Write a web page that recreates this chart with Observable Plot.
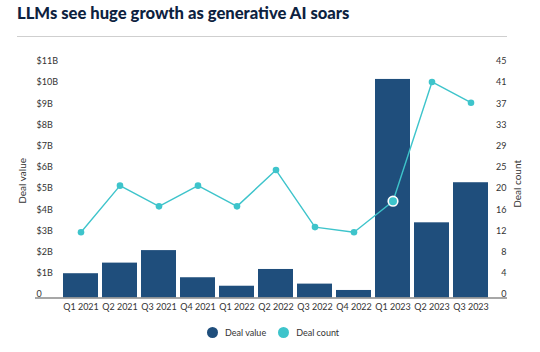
<!DOCTYPE html>
<html>
<head>
<meta charset="utf-8">
<script src="https://cdn.jsdelivr.net/npm/d3@7"></script>
<script src="https://cdn.jsdelivr.net/npm/@observablehq/plot@0.6"></script>
<style>
  html, body { margin: 0; padding: 0; background: #fff; }
  #wrap { position: relative; width: 540px; height: 352px; overflow: hidden; font-family: Lato, "Open Sans", sans-serif; }
  #title { position: absolute; left: 17px; top: 3px; font-size: 16.6px; font-weight: 900; color: #0d2240; white-space: nowrap; }
  #divider { position: absolute; left: 17px; top: 36px; width: 490px; height: 1px; background: #cfcfcf; }
  #chart { position: absolute; left: 0; top: 0; }
  #legend { position: absolute; top: 327px; left: 207px; display: flex; align-items: center; font-size: 9px; color: #333; }
  .sw { width: 11px; height: 11px; border-radius: 50%; display: inline-block; margin-right: 7px; }
  .item { display: flex; align-items: center; margin-right: 12px; }
</style>
</head>
<body>
<div id="wrap">
  <div id="title">LLMs see huge growth as generative AI soars</div>
  <div id="divider"></div>
  <div id="chart"></div>
  <div id="legend"></div>
</div>
<script>
const quarters = ["Q1 2021","Q2 2021","Q3 2021","Q4 2021","Q1 2022","Q2 2022","Q3 2022","Q4 2022","Q1 2023","Q2 2023","Q3 2023"];
const dealValue = [0.98, 1.48, 2.07, 0.79, 0.39, 1.18, 0.49, 0.19, 10.14, 3.38, 5.27]; // $B
const dealCount = [12, 21, 17, 21, 17, 24, 13, 12, 18, 41, 37];
const valueTicks = [0,1,2,3,4,5,6,7,8,9,10,11];
const valueTickLabels = ["0","$1B","$2B","$3B","$4B","$5B","$6B","$7B","$8B","$9B","$10B","$11B"];
const countTickLabels = ["0","4","8","12","16","20","25","29","33","37","41","45"];
const countMax = 45;
const valueMax = 11;
const highlighted = "Q1 2023";
const series = ["Deal value", "Deal count"];
const colors = ["#1f4e7c", "#3ec4cb"];

const data = quarters.map((q, i) => ({quarter: q, value: dealValue[i], count: dealCount[i]}));
const countToY = c => c * valueMax / countMax;

const plot = Plot.plot({
  width: 540,
  height: 352,
  marginTop: 60.7,
  marginBottom: 58,
  marginLeft: 35,
  marginRight: 33,
  style: {fontFamily: "Lato, 'Open Sans', sans-serif", fontSize: "9px", color: "#333", background: "transparent"},
  x: {domain: quarters, range: [57, 495], padding: 0.1},
  y: {domain: [0, valueMax]},
  marks: [
    Plot.barY(data, {x: "quarter", y: "value", fill: colors[0], insetBottom: -3.5}),
    Plot.ruleY([0], {stroke: "#8a8a8a", strokeWidth: 1.5, dy: 3.5}),
    Plot.line(data, {x: "quarter", y: d => countToY(d.count), stroke: colors[1], strokeWidth: 1.4}),
    Plot.dot(data.filter(d => d.quarter !== highlighted), {x: "quarter", y: d => countToY(d.count), r: 3.3, fill: colors[1]}),
    Plot.dot(data.filter(d => d.quarter === highlighted), {x: "quarter", y: d => countToY(d.count), r: 4.8, fill: colors[1], stroke: "#fff", strokeWidth: 1.6}),
    Plot.axisX({tickSize: 0, tickPadding: 9, label: null, fontSize: 9, fill: "#333"}),
    Plot.axisY(valueTicks, {anchor: "left", tickSize: 0, tickPadding: -1, textAnchor: "start", tickFormat: (d, i) => valueTickLabels[i], label: null, fill: "#333"}),
    Plot.axisY(valueTicks, {anchor: "right", tickSize: 0, tickPadding: -1, textAnchor: "end", tickFormat: (d, i) => countTickLabels[i], label: null, fill: "#333"}),
    Plot.text(["Deal value"], {frameAnchor: "left", textAnchor: "middle", rotate: -90, dx: -13, dy: 3, fontSize: 10, fill: "#333"}),
    Plot.text(["Deal count"], {frameAnchor: "right", textAnchor: "middle", rotate: -90, dx: 10, dy: 6, fontSize: 10, fill: "#333"})
  ]
});
document.getElementById("chart").appendChild(plot);

const legend = document.getElementById("legend");
series.forEach((s, i) => {
  const item = document.createElement("div");
  item.className = "item";
  const sw = document.createElement("span");
  sw.className = "sw";
  sw.style.background = colors[i];
  const t = document.createElement("span");
  t.textContent = s;
  item.appendChild(sw);
  item.appendChild(t);
  legend.appendChild(item);
});
</script>
</body>
</html>
